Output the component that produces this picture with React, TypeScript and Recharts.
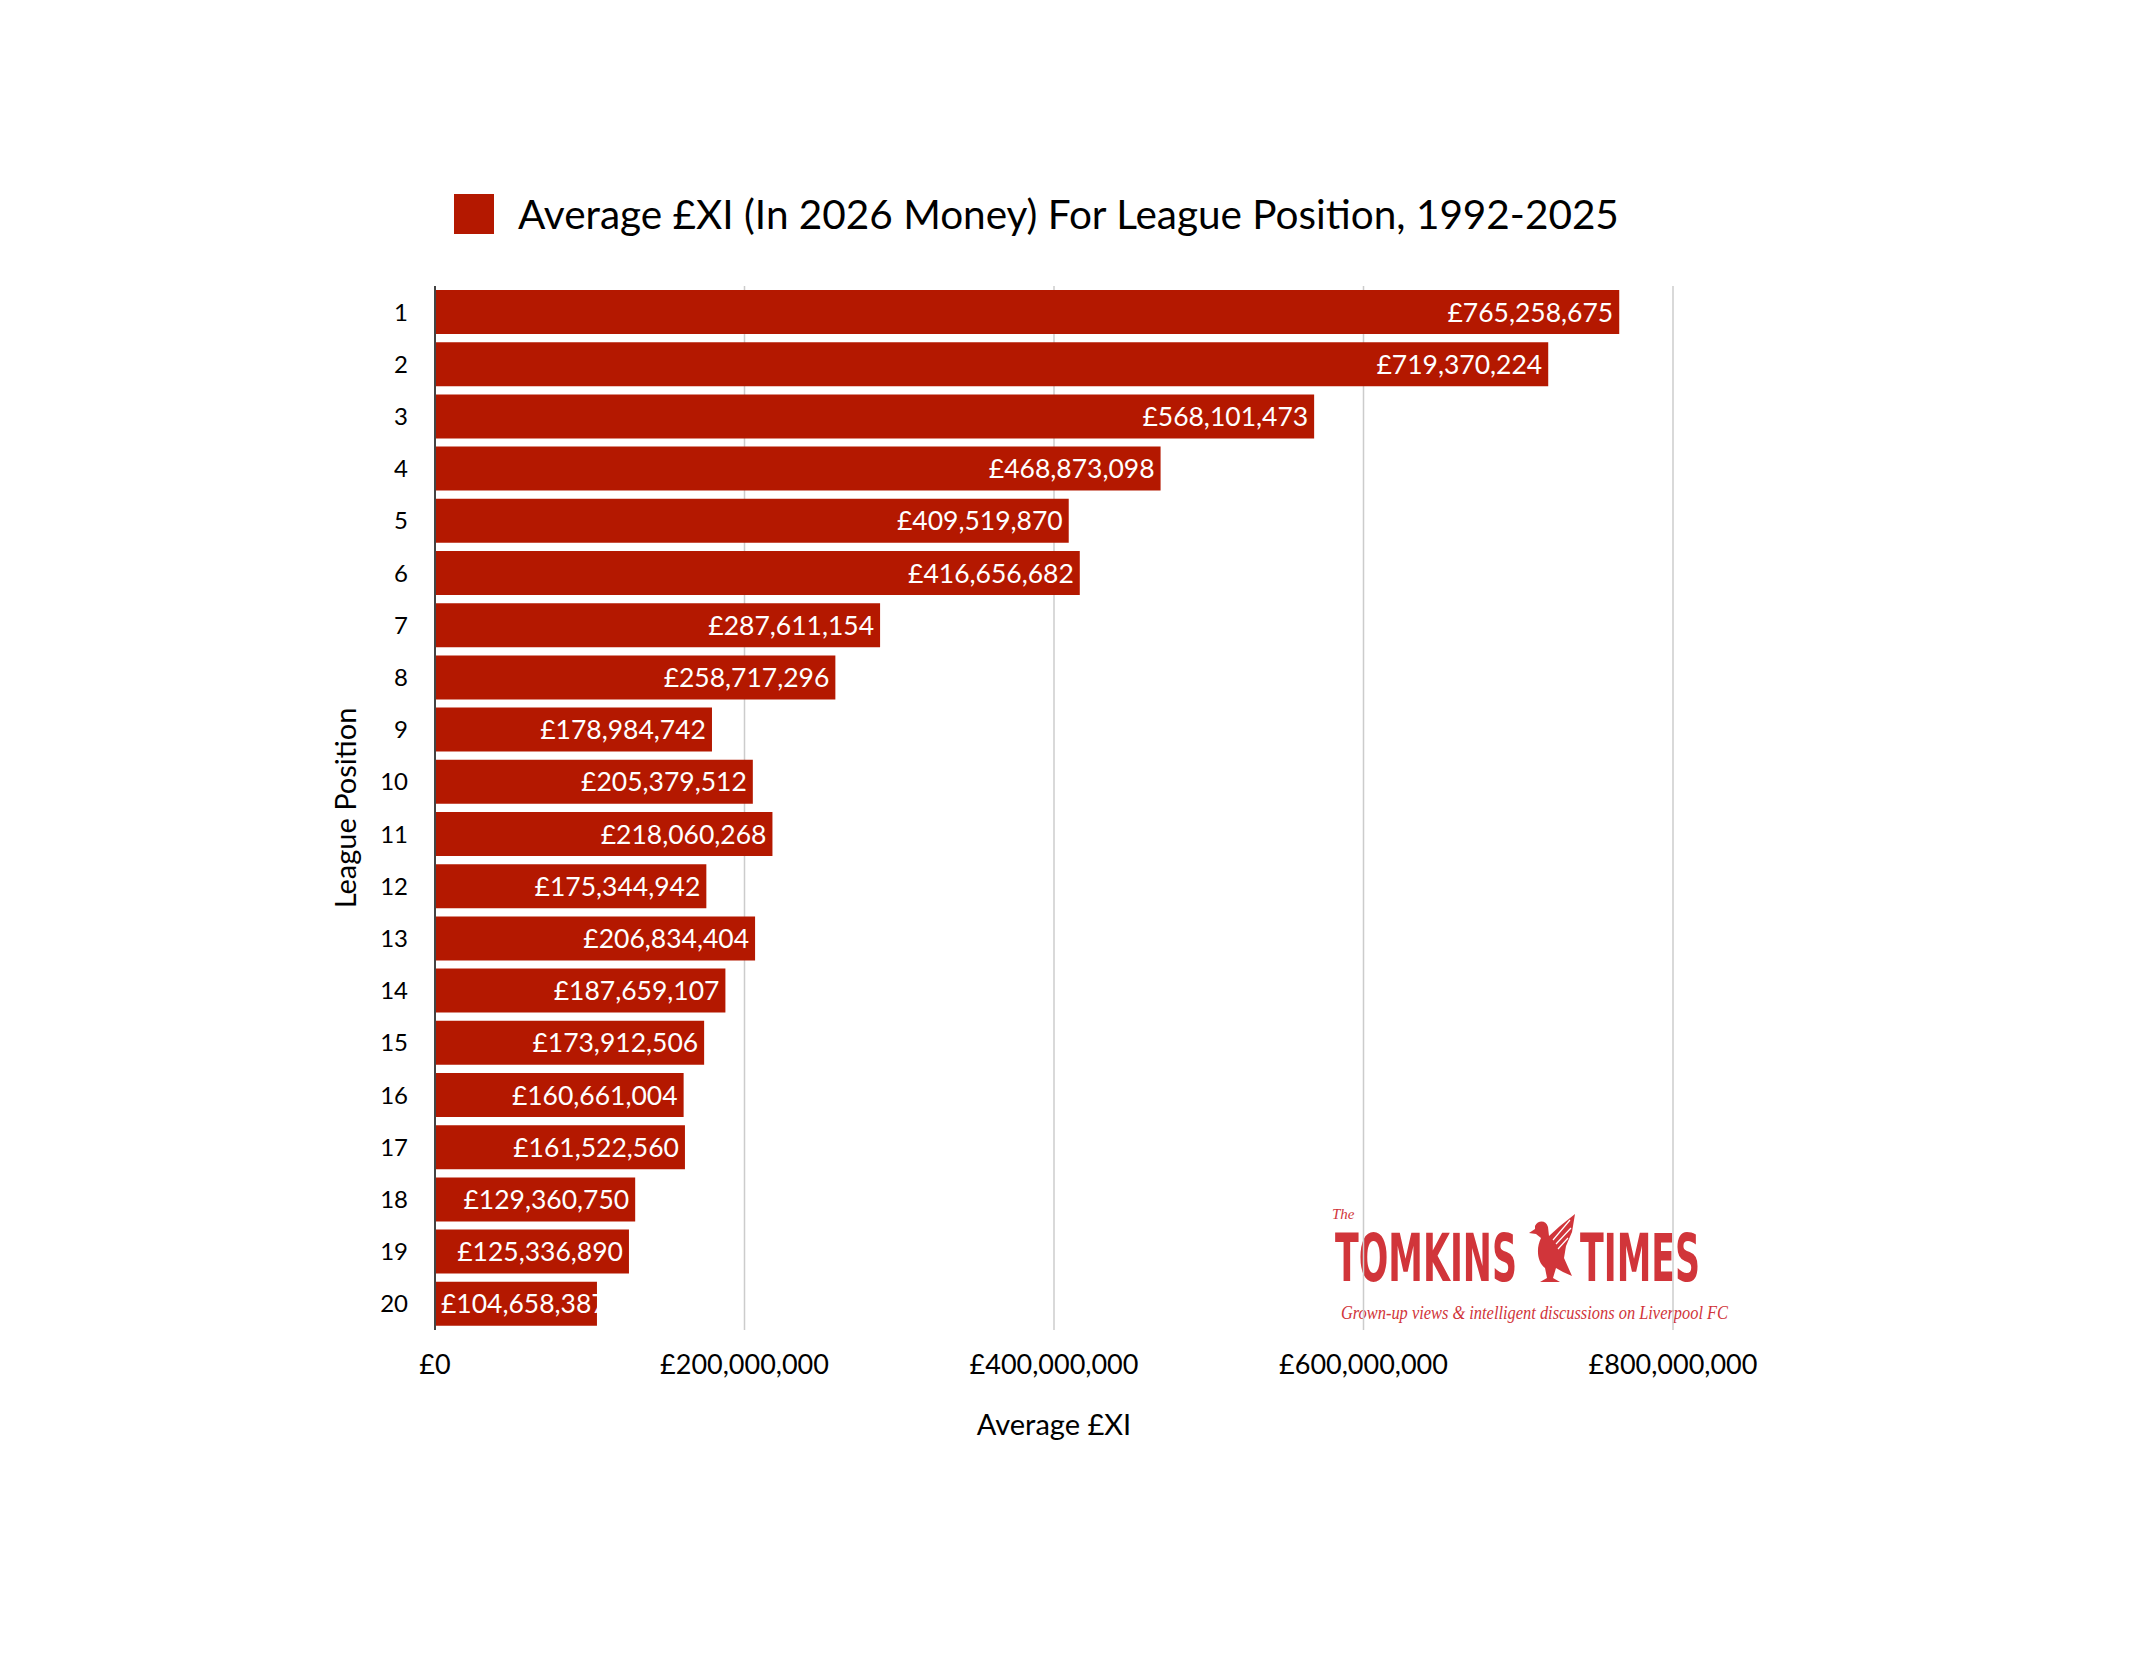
import { Bar, BarChart, CartesianGrid, LabelList, Legend, XAxis, YAxis } from 'recharts'

const positions = ['1', '2', '3', '4', '5', '6', '7', '8', '9', '10', '11', '12', '13', '14', '15', '16', '17', '18', '19', '20']
const averageXI = [
  765258675, 719370224, 568101473, 468873098, 409519870, 416656682, 287611154, 258717296, 178984742, 205379512,
  218060268, 175344942, 206834404, 187659107, 173912506, 160661004, 161522560, 129360750, 125336890, 104658387,
]
const xTicks = [0, 200000000, 400000000, 600000000, 800000000]

const seriesName = 'Average £XI (In 2026 Money) For League Position, 1992-2025'
const barColor = '#b41800'
const logoRed = '#d1353a'
const font = 'Lato, "Noto Sans", sans-serif'
const logoFont = '"Liberation Sans Narrow", "DejaVu Sans Condensed", sans-serif'

const money = (v: number) => '£' + Math.round(v).toLocaleString('en-GB')

const data = positions.map((position, i) => ({ position, value: averageXI[i] }))

function ValueLabel(props: any) {
  const { x, y, width, height, value, index } = props
  const narrow = width < 180
  const clipId = `clip-${index}`
  return (
    <g>
      {narrow && (
        <defs>
          <clipPath id={clipId}>
            <rect x={x} y={y} width={width} height={height} />
          </clipPath>
        </defs>
      )}
      <text
        x={narrow ? x + 6 : x + width - 6}
        y={y + height / 2}
        dy="0.36em"
        textAnchor={narrow ? 'start' : 'end'}
        fill="#fff"
        fontSize={26.5}
        fontFamily={font}
        clipPath={narrow ? `url(#${clipId})` : undefined}
      >
        {money(value)}
      </text>
    </g>
  )
}

function LegendContent() {
  return (
    <div style={{ display: 'flex', alignItems: 'center', fontFamily: font, fontSize: 40.5, color: '#000' }}>
      <span style={{ width: 40, height: 40, background: barColor, marginRight: 24, display: 'inline-block' }} />
      <span>{seriesName}</span>
    </div>
  )
}

// watermark sits under the chart so the grid lines cross it, as in the original
function Logo() {
  return (
    <svg width={2138} height={1664} style={{ position: 'absolute', left: 0, top: 0 }}>
      <text x={1332} y={1219} fill={logoRed} fontSize={15} fontStyle="italic" fontFamily='"Liberation Serif", serif'>
        The
      </text>
      <text x={1335} y={1281} fill={logoRed} fontSize={65} fontWeight={700} fontFamily={logoFont} textLength={182} lengthAdjust="spacingAndGlyphs">
        TOMKINS
      </text>
      <path
        d="M1535 1226 C1538 1220 1546 1220 1548 1227 L1549 1236 L1560 1226 L1575 1214 L1572 1232 L1566 1246 L1564 1258 L1572 1276 L1563 1272 L1556 1268 L1553 1278 L1560 1282 L1540 1282 L1547 1278 L1545 1268 C1537 1262 1536 1248 1541 1238 L1536 1234 L1529 1233 L1535 1229 Z"
        fill={logoRed}
      />
      <path d="M1553 1240 L1570 1220 M1556 1244 L1571 1228 M1558 1249 L1568 1238" stroke="#fff" strokeWidth={1.2} />
      <text x={1580} y={1281} fill={logoRed} fontSize={65} fontWeight={700} fontFamily={logoFont} textLength={120} lengthAdjust="spacingAndGlyphs">
        TIMES
      </text>
      <text
        x={1341}
        y={1319}
        fill={logoRed}
        fontSize={19}
        fontStyle="italic"
        fontFamily='"Liberation Serif", serif'
        textLength={387}
        lengthAdjust="spacingAndGlyphs"
      >
        Grown-up views &amp; intelligent discussions on Liverpool FC
      </text>
    </svg>
  )
}

export default function App() {
  return (
    <div style={{ position: 'absolute', left: 0, top: 0, width: 2138, height: 1664, background: '#fff' }}>
      <Logo />
      <div style={{ position: 'absolute', left: 0, top: 0 }}>
        <BarChart
          width={2138}
          height={1664}
          data={data}
          layout="vertical"
          margin={{ top: 286, right: 465, bottom: 274, left: 335 }}
        >
          <CartesianGrid horizontal={false} stroke="#cccccc" strokeWidth={1.5} />
          <XAxis
            type="number"
            domain={[0, 800000000]}
            ticks={xTicks}
            tickFormatter={(v: number) => money(v)}
            axisLine={false}
            tickLine={false}
            tickSize={0}
            tickMargin={25}
            height={60}
            tick={{ fill: '#000', fontSize: 27, fontFamily: font }}
            label={{ value: 'Average £XI', position: 'insideBottom', offset: -45, fill: '#000', fontSize: 29, fontFamily: font }}
          />
          <YAxis
            type="category"
            dataKey="position"
            width={100}
            axisLine={{ stroke: '#444', strokeWidth: 2 }}
            tickLine={false}
            tickSize={0}
            tickMargin={27}
            tick={{ fill: '#000', fontSize: 24, fontFamily: font }}
            label={{ value: 'League Position', angle: -90, position: 'insideLeft', offset: 11, fill: '#000', fontSize: 29, fontFamily: font, style: { textAnchor: 'middle' } }}
          />
          <Legend
            verticalAlign="middle"
            align="center"
            content={<LegendContent />}
            wrapperStyle={{ top: 189, left: 454, width: 1400, height: 50 }}
          />
          <Bar name={seriesName} dataKey="value" fill={barColor} barSize={44} isAnimationActive={false}>
            <LabelList dataKey="value" content={<ValueLabel />} />
          </Bar>
        </BarChart>
      </div>
    </div>
  )
}
